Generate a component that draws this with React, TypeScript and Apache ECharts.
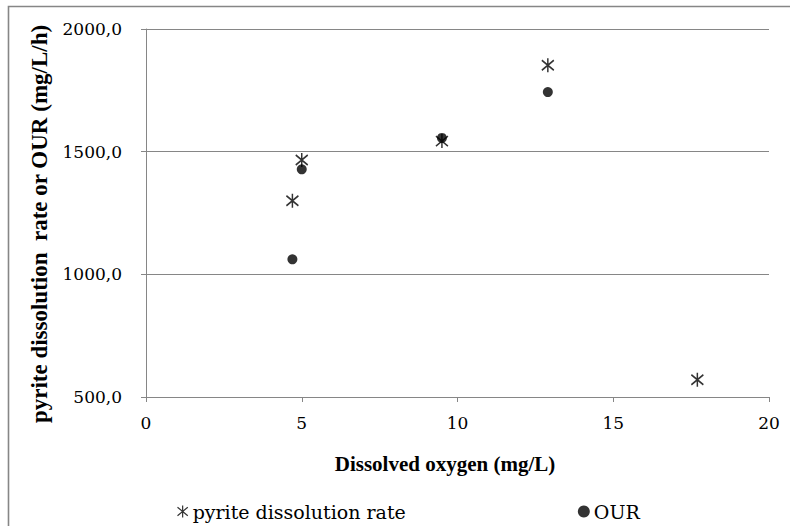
import React, { useEffect, useRef } from "react";
import * as echarts from "echarts";

const pyriteX = [4.7, 5.0, 9.5, 12.9, 17.7];
const pyriteY = [1300, 1466, 1543, 1852, 570];
const ourX = [4.7, 5.0, 9.5, 12.9];
const ourY = [1061, 1428, 1556, 1743];
const yTicks = [500, 1000, 1500, 2000];
const xTicks = [0, 5, 10, 15, 20];

const STAR = "path://M6,0 L6,14 M0,2 L12,12 M0,12 L12,2";
const FONT = "Liberation Serif";
const LFONT = "DejaVu Serif";

export default function App() {
  const ref = useRef<HTMLDivElement>(null);
  useEffect(() => {
    document.body.style.margin = "0";
    const chart = echarts.init(ref.current!, null, { renderer: "svg" });
    chart.setOption({
      animation: false,
      textStyle: { fontFamily: FONT, color: "#000" },
      graphic: [
        {
          type: "rect",
          shape: { x: 8.5, y: 6.5, width: 900, height: 700 },
          style: { fill: "none", stroke: "#868686", lineWidth: 1.6 },
          silent: true,
          z: -1,
        },
      ],
      grid: { left: 146, top: 29, width: 623, height: 368, containLabel: false },
      xAxis: {
        type: "value",
        min: 0,
        max: 20,
        interval: 5,
        name: "Dissolved oxygen (mg/L)",
        nameLocation: "middle",
        nameGap: 56,
        nameTextStyle: { fontFamily: FONT, fontWeight: "bold", fontSize: 21, color: "#000", padding: [0, 25, 0, 0] },
        axisLine: { show: true, onZero: false, lineStyle: { color: "#868686", width: 1 } },
        axisTick: { show: true, length: 5, lineStyle: { color: "#868686" } },
        axisLabel: { fontFamily: LFONT, fontSize: 17, color: "#000", margin: 17, formatter: (v: number) => (xTicks.includes(v) ? String(v) : "") },
        splitLine: { show: false },
      },
      yAxis: {
        type: "value",
        min: 500,
        max: 2000,
        interval: 500,
        name: "pyrite dissolution  rate or OUR (mg/L/h)",
        nameLocation: "middle",
        nameGap: 95,
        nameTextStyle: { fontFamily: FONT, fontWeight: "bold", fontSize: 23, color: "#000", padding: [0, 22, 0, 0] },
        axisLine: { show: true, lineStyle: { color: "#868686", width: 1 } },
        axisTick: { show: true, length: 5, lineStyle: { color: "#868686" } },
        axisLabel: {
          fontFamily: LFONT,
          fontSize: 17,
          color: "#000",
          margin: 24,
          formatter: (v: number) => (yTicks.includes(v) ? v.toFixed(1).replace(".", ",") : ""),
        },
        splitLine: { show: true, lineStyle: { color: "#868686", width: 1 } },
      },
      legend: {
        left: 170,
        top: 497,
        itemGap: 172,
        itemWidth: 12,
        itemHeight: 12,
        textStyle: { fontFamily: LFONT, fontSize: 19, color: "#000", padding: [0, 0, 0, -1] },
        data: [
          { name: "pyrite dissolution rate", icon: STAR, itemStyle: { color: "none", borderColor: "#000", borderWidth: 1.2 } },
          { name: "OUR", icon: "circle", itemStyle: { color: "#000" } },
        ],
      },
      series: [
        {
          name: "pyrite dissolution rate",
          type: "scatter",
          symbol: STAR,
          symbolSize: [12, 14],
          itemStyle: { color: "none", borderColor: "#000", borderWidth: 1.6 },
          data: pyriteX.map((x, i) => [x, pyriteY[i]]),
          z: 3,
        },
        {
          name: "OUR",
          type: "scatter",
          symbol: "circle",
          symbolSize: 10,
          itemStyle: { color: "#000" },
          data: ourX.map((x, i) => [x, ourY[i]]),
          z: 2,
        },
      ],
    });
    return () => chart.dispose();
  }, []);
  return <div ref={ref} style={{ width: 790, height: 526 }} />;
}
